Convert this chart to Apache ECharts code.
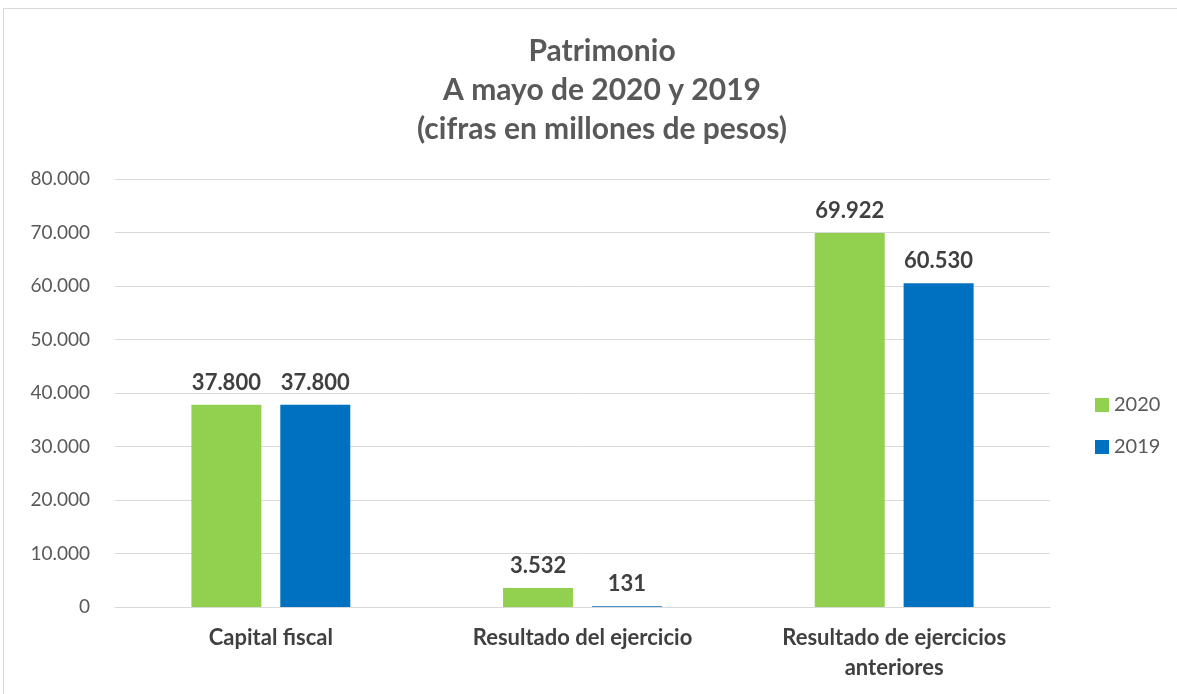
<!DOCTYPE html>
<html><head><meta charset="utf-8">
<script src="https://cdn.jsdelivr.net/npm/echarts@6/dist/echarts.min.js"></script>
<style>html,body{margin:0;padding:0;background:#fff}#c{width:1177px;height:694px}</style>
</head><body><div id="c"></div>
<script>
const categories = ['Capital fiscal', 'Resultado del ejercicio', 'Resultado de ejercicios\nanteriores'];
const values2020 = [37800, 3532, 69922];
const values2019 = [37800, 131, 60530];
const seriesNames = ['2020', '2019'];
const titleLines = ['Patrimonio', 'A mayo de 2020 y 2019', '(cifras en millones de pesos)'];

const fontFam = 'Lato, "Open Sans", sans-serif';
const fmt = v => String(v).replace(/\B(?=(\d{3})+(?!\d))/g, '.');
const chart = echarts.init(document.getElementById('c'));
const lbl = {show: true, position: 'top', distance: 11, color: '#404040', fontSize: 22, fontWeight: 'bold', fontFamily: fontFam, formatter: p => fmt(p.value)};
chart.setOption({
  animation: false,
  graphic: [{type: 'rect', shape: {x: 3.5, y: 8.5, width: 1200, height: 700}, style: {fill: 'none', stroke: '#d9d9d9', lineWidth: 1}}],
  title: {text: titleLines.join('\n'), left: 597, textAlign: 'center', top: 27,
    textStyle: {fontSize: 30, fontWeight: 'bold', color: '#595959', fontFamily: fontFam, lineHeight: 39}},
  legend: {orient: 'vertical', left: 1090, top: 390, itemWidth: 14, itemHeight: 14, itemGap: 22, icon: 'rect',
    textStyle: {fontSize: 20, color: '#595959', fontFamily: fontFam}, data: seriesNames},
  grid: {left: 115, right: 127, top: 179, bottom: 87, containLabel: false},
  xAxis: {type: 'category', data: categories, axisTick: {show: false},
    axisLine: {lineStyle: {color: '#d9d9d9'}},
    axisLabel: {color: '#404040', fontSize: 22, fontWeight: 'bold', fontFamily: fontFam, margin: 16, lineHeight: 30, interval: 0}},
  yAxis: {type: 'value', min: 0, max: 80000, interval: 10000,
    axisLabel: {formatter: v => fmt(v), color: '#595959', fontSize: 19, fontFamily: fontFam, margin: 25},
    splitLine: {lineStyle: {color: '#d9d9d9'}}, axisLine: {show: false}, axisTick: {show: false}},
  series: [
    {name: seriesNames[0], type: 'bar', data: values2020, barWidth: 70, barGap: '27%', itemStyle: {color: '#92d050'}, label: lbl},
    {name: seriesNames[1], type: 'bar', data: values2019, barWidth: 70, itemStyle: {color: '#0070c0'}, label: lbl}
  ]
});
</script></body></html>
